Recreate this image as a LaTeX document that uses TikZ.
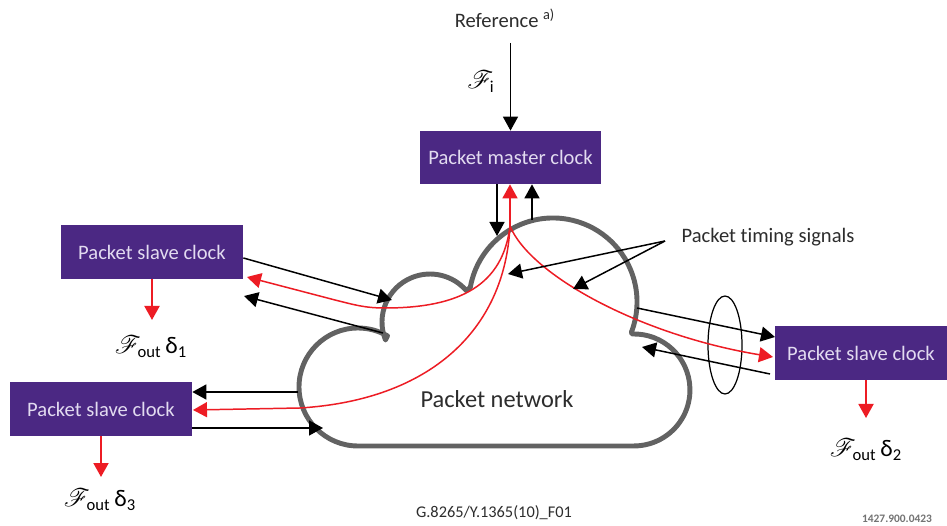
\documentclass[tikz,border=0pt]{standalone}
\usepackage{fontspec}
\setmainfont{Carlito}[Ligatures=NoCommon]
\usepackage{amsmath}
\usepackage{mathrsfs}
\usetikzlibrary{arrows.meta,positioning,shapes.geometric}

\definecolor{clockpurple}{RGB}{75,40,131}
\definecolor{sigred}{RGB}{237,28,36}
\definecolor{cloudgray}{RGB}{98,98,98}
\definecolor{txtgray}{RGB}{45,45,45}
\definecolor{boxtext}{RGB}{226,219,240}

\begin{document}
\begin{tikzpicture}[x=0.02cm,y=-0.02cm,
    >={Triangle[length=0.28cm,width=0.3cm]},
    clock/.style={rectangle,fill=clockpurple,text=boxtext,minimum width=3.64cm,minimum height=1.08cm,font=\fontsize{11.7}{14}\selectfont},
    lbl/.style={text=txtgray,font=\fontsize{11.7}{14}\selectfont},
    outlbl/.style={text=black,font=\fontsize{13.5}{16}\selectfont},
    sig/.style={->,line width=0.85pt,black},
    redsig/.style={->,line width=0.85pt,sigred},
    outarrow/.style={->,line width=1.1pt,sigred}]
    \fill[white] (0,0) rectangle (947,526);
    \useasboundingbox (0,0) rectangle (947,526);

    \draw[cloudgray,line width=2.8pt,line join=round]
      (358,446) arc[start angle=90,end angle=300,radius=59]
      -- (385.5,340) arc[start angle=158,end angle=319,radius=48]
      -- (470.3,287.4) arc[start angle=190,end angle=381,radius=84]
      -- (632,334) arc[start angle=268,end angle=450,radius=56]
      -- cycle;
    \node[text=txtgray,font=\fontsize{13.9}{16}\selectfont] (net) at (497,399) {Packet network};

    \node[clock,minimum width=3.62cm,minimum height=1.06cm] (master) at (510.5,157.5) {Packet master clock};
    \node[clock] (slave1) at (152,252) {Packet slave clock};
    \node[clock,minimum width=3.44cm] (slave2) at (861,353) {Packet slave clock};
    \node[clock] (slave3) at (101,409) {Packet slave clock};

    \node[lbl] (reference) at (505,18) {Reference \textsuperscript{a)}};
    \node[outlbl] (fi) at (481,82) {$\mathscr{F}_{\text{i}}$};
    \node[outlbl] (out1) at (151,347) {$\mathscr{F}_{\text{out}}$\,δ\textsubscript{1}};
    \node[outlbl] (out2) at (866,450) {$\mathscr{F}_{\text{out}}$\,δ\textsubscript{2}};
    \node[outlbl] (out3) at (100,500) {$\mathscr{F}_{\text{out}}$\,δ\textsubscript{3}};
    \node[lbl] (timing) at (768,237) {Packet timing signals};
    \node[draw,ellipse,line width=0.7pt,minimum width=0.68cm,minimum height=1.96cm,inner sep=0pt] (bundle) at (725,345) {};

    \node[text=txtgray,font=\fontsize{9.3}{11}\selectfont] (figid) at (494,513) {G.8265/Y.1365(10)\_F01};
    \node[text=black!55,font=\fontsize{6.5}{8}\selectfont\bfseries] (fignum) at (897,519) {1427.900.0423};

    \coordinate (refin) at (510.5,43);
    \coordinate (mdown) at (497,236);
    \coordinate (mup) at (532,220);
    \coordinate (hub) at (510,226);

    \coordinate (s1in) at (392,300);
    \coordinate (s1red) at (247,277);
    \coordinate (c1) at (383,333);
    \coordinate (s1back) at (244,296);
    \coordinate (s1out) at (152,320);

    \coordinate (c2a) at (637,308);
    \coordinate (s2in) at (775,337);
    \coordinate (s2red) at (773,357);
    \coordinate (s2back) at (770,374);
    \coordinate (c2b) at (642,347);
    \coordinate (s2out) at (866,418);

    \coordinate (c3a) at (298,392);
    \coordinate (s3red) at (193,410);
    \coordinate (c3b) at (323,428);
    \coordinate (s3out) at (101,477);

    \coordinate (fork) at (665,241);
    \coordinate (tsA) at (508,274);
    \coordinate (tsB) at (573,289);

    \draw[sig] (refin) -- (refin |- master.north);
    \draw[sig] (master.south -| mdown) -- (mdown);
    \draw[sig] (mup) -- (mup |- master.south);
    \draw[redsig] (hub) -- (hub |- master.south);

    \draw[sig] ([yshift=-3.4pt]slave1.east) -- (s1in);
    \draw[redsig] (hub) .. controls (503,285) and (460,308) .. (385,308)
      .. controls (365,308) and (355,305) .. (335,300) -- (s1red);
    \draw[sig] (c1) -- (s1back);

    \draw[sig] (c2a) -- (s2in);
    \draw[redsig] (hub) .. controls (530,275) and (640,335) .. (s2red);
    \draw[sig] (s2back) -- (c2b);

    \draw[sig] (c3a) -- (slave3.east |- c3a);
    \draw[redsig] (hub) .. controls (505,330) and (430,400) .. (300,408) -- (s3red);
    \draw[sig] (slave3.east |- c3b) -- (c3b);

    \draw[sig] (fork) -- (tsA);
    \draw[sig] (fork) -- (tsB);

    \draw[outarrow] (slave1.south) -- (s1out);
    \draw[outarrow] (slave2.south -| s2out) -- (s2out);
    \draw[outarrow] (slave3.south) -- (s3out);
  \end{tikzpicture}
\end{document}
